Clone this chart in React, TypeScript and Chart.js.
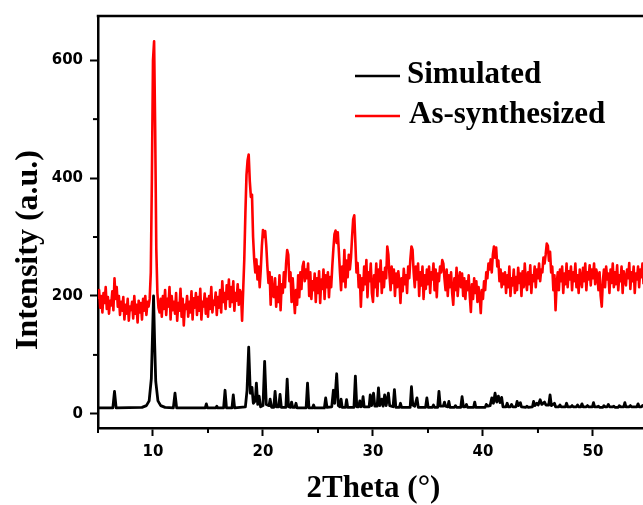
import { useEffect, useRef } from "react";
import { Chart, registerables } from "chart.js";

Chart.register(...registerables);

// ---------- data ----------
const seriesNames = ["Simulated", "As-synthesized"];
const seriesColors = ["#000000", "#ff0000"];

const xTickValues = [10, 20, 30, 40, 50];
const xMinorTicks = [5, 15, 25, 35, 45];
const yTickValues = [0, 200, 400, 600];
const yMinorTicks = [100, 300, 500];

const xTitle = "2Theta (°)";
const yTitle = "Intensity (a.u.)";

// Simulated pattern (2θ, intensity)
const simX = [
  5.0, 6.35, 6.5, 6.65, 9.0, 9.4, 9.65, 9.85, 9.95, 10.05, 10.15, 10.25, 10.45, 10.7, 11.1,
  11.85, 12.0, 12.15, 14.75, 14.85, 14.95, 15.7, 15.8, 15.9, 16.42, 16.55, 16.68, 17.18, 17.3, 17.42,
  18.4, 18.55, 18.7, 18.85, 19.0, 19.12, 19.3, 19.4, 19.52, 19.65, 19.78, 20.0, 20.15, 20.3, 20.55,
  20.65, 20.78, 20.98, 21.1, 21.22, 21.43, 21.55, 21.67, 22.08, 22.2, 22.32, 22.5, 22.6, 22.7, 22.9,
  23.0, 23.1, 23.92, 24.05, 24.18, 24.5, 24.6, 24.7, 25.58, 25.7, 25.82, 26.25, 26.4, 26.52, 26.7,
  26.85, 27.0, 27.1, 27.2, 27.5, 27.6, 27.7, 28.27, 28.4, 28.53, 28.7, 28.8, 28.9, 29.0, 29.1,
  29.2, 29.65, 29.75, 29.88, 30.05, 30.17, 30.38, 30.5, 30.62, 30.8, 30.92, 31.06, 31.2, 31.4, 31.52,
  31.83, 31.95, 32.08, 32.4, 32.5, 32.6, 33.38, 33.5, 33.62, 33.8, 34.0, 34.12, 34.78, 34.9, 35.02,
  35.4, 35.5, 35.6, 35.88, 36.0, 36.12, 36.4, 36.5, 36.6, 36.8, 36.9, 37.0, 37.4, 37.5, 37.6,
  37.98, 38.1, 38.22, 38.4, 38.5, 38.6, 39.15, 39.25, 39.35, 40.2, 40.3, 40.45, 40.65, 40.8, 40.95,
  41.1, 41.25, 41.4, 41.55, 41.7, 41.82, 42.1, 42.2, 42.3, 42.5, 42.6, 42.7, 43.0, 43.1, 43.22,
  43.4, 43.5, 43.9, 44.0, 44.1, 44.5, 44.6, 44.72, 44.9, 45.02, 45.2, 45.35, 45.6, 45.72, 45.98,
  46.1, 46.22, 46.5, 46.6, 46.9, 47.0, 47.1, 47.5, 47.6, 47.7, 48.0, 48.1, 48.2, 48.5, 48.6,
  48.7, 48.9, 49.0, 49.1, 49.4, 49.5, 49.6, 49.95, 50.05, 50.15, 50.4, 50.5, 50.6, 50.9, 51.0,
  51.1, 51.3, 51.4, 51.5, 51.8, 51.9, 52.0, 52.3, 52.4, 52.5, 52.8, 52.9, 53.0, 53.3, 53.4,
  53.5, 54.0, 54.1, 54.2, 54.4, 54.5, 54.6,
];
const simY = [
  10, 10, 38, 10, 11, 14, 22, 60, 130, 200, 120, 55, 22, 14, 11,
  10, 35, 10, 10, 17, 10, 10, 13, 10, 10, 40, 10, 10, 32, 10,
  12, 40, 113, 35, 45, 18, 22, 52, 16, 30, 12, 14, 89, 16, 14,
  25, 11, 11, 38, 12, 12, 33, 11, 11, 59, 12, 11, 20, 11, 11,
  18, 10, 10, 52, 10, 10, 15, 10, 10, 27, 11, 12, 40, 18, 68,
  14, 12, 25, 11, 11, 24, 11, 11, 64, 12, 12, 22, 12, 13, 29,
  12, 12, 32, 14, 35, 13, 13, 44, 14, 25, 13, 32, 14, 35, 14,
  12, 41, 11, 11, 18, 11, 11, 46, 15, 13, 27, 11, 11, 27, 11,
  11, 15, 11, 11, 38, 13, 13, 20, 13, 12, 21, 11, 11, 14, 11,
  11, 29, 12, 12, 16, 11, 11, 20, 11, 11, 16, 13, 14, 27, 18,
  35, 20, 30, 19, 28, 12, 12, 18, 12, 12, 16, 12, 12, 21, 14,
  19, 12, 11, 13, 11, 12, 21, 14, 18, 15, 24, 16, 20, 15, 15,
  32, 14, 18, 12, 12, 15, 12, 12, 18, 12, 12, 14, 12, 12, 15,
  12, 12, 17, 12, 12, 14, 12, 12, 19, 12, 12, 13, 11, 11, 14,
  12, 12, 16, 12, 12, 13, 11, 11, 14, 12, 12, 19, 12, 12, 14,
  12, 12, 17, 12, 12, 14, 12,
];

// As-synthesized pattern: measured scan starting at 5.0°, step 0.1°
const synStart = 5.0;
const synStep = 0.1;
const synY = [
  195, 210, 180, 200, 172, 205, 188, 215, 178, 198, // 5
  170, 192, 184, 208, 176, 230, 195, 215, 182, 200, // 6
  168, 190, 175, 198, 160, 185, 170, 195, 158, 182, // 7
  176, 190, 162, 200, 170, 185, 155, 192, 172, 188, // 8
  160, 195, 175, 200, 168, 190, 182, 195, 240, 400, // 9
  600, 632, 480, 280, 205, 180, 172, 195, 165, 200, // 10
  178, 210, 168, 195, 182, 215, 160, 200, 176, 190, // 11
  170, 205, 158, 188, 175, 212, 165, 195, 150, 185, // 12
  178, 200, 165, 190, 172, 208, 160, 196, 180, 205, // 13
  168, 198, 175, 212, 160, 190, 182, 204, 170, 195, // 14
  165, 200, 178, 215, 172, 192, 185, 206, 168, 198, // 15
  180, 210, 172, 225, 190, 205, 178, 218, 195, 228, // 16
  182, 215, 190, 225, 175, 205, 192, 220, 185, 210, // 17
  205, 158, 210, 262, 340, 405, 430, 440, 395, 368, // 18
  372, 300, 262, 240, 262, 228, 250, 215, 245, 285, // 19
  312, 300, 310, 285, 250, 222, 240, 185, 232, 200, // 20
  198, 230, 182, 215, 190, 235, 176, 220, 205, 240, // 21
  215, 255, 278, 270, 225, 240, 190, 230, 200, 171, // 22
  210, 185, 235, 198, 240, 212, 250, 258, 225, 245, // 23
  230, 255, 200, 240, 195, 225, 210, 238, 190, 230, // 24
  205, 242, 188, 228, 212, 245, 195, 235, 215, 240, // 25
  198, 232, 215, 250, 280, 305, 311, 290, 308, 275, // 26
  240, 210, 250, 225, 278, 215, 260, 232, 270, 245, // 27
  265, 300, 330, 337, 290, 240, 256, 215, 235, 182, // 28
  230, 210, 250, 220, 261, 198, 240, 225, 255, 205, // 29
  190, 235, 215, 255, 200, 245, 225, 260, 205, 240, // 30
  215, 248, 230, 284, 270, 235, 210, 250, 222, 245, // 31
  200, 238, 215, 242, 225, 188, 230, 208, 246, 220, // 32
  235, 205, 250, 230, 262, 284, 278, 240, 215, 250, // 33
  228, 255, 200, 240, 218, 250, 195, 235, 212, 245, // 34
  220, 250, 205, 240, 228, 255, 210, 245, 198, 238, // 35
  225, 250, 240, 261, 255, 230, 210, 245, 200, 235, // 36
  215, 240, 205, 185, 230, 210, 248, 200, 225, 240, // 37
  215, 238, 200, 230, 195, 225, 210, 235, 200, 173, // 38
  220, 195, 230, 205, 225, 190, 215, 200, 171, 210, // 39
  195, 225, 210, 240, 230, 255, 245, 262, 240, 270, // 40
  284, 265, 282, 250, 260, 225, 245, 215, 238, 220, // 41
  240, 205, 235, 215, 250, 200, 230, 218, 245, 205, // 42
  232, 210, 248, 222, 238, 200, 242, 215, 255, 225, // 43
  210, 240, 220, 252, 205, 235, 225, 250, 215, 245, // 44
  230, 255, 225, 245, 240, 265, 255, 270, 289, 285, // 45
  260, 275, 240, 250, 210, 235, 176, 220, 240, 210, // 46
  245, 225, 250, 205, 238, 220, 255, 215, 242, 228, // 47
  250, 210, 240, 225, 255, 215, 235, 205, 245, 230, // 48
  215, 248, 225, 255, 210, 240, 228, 252, 218, 245, // 49
  230, 255, 220, 245, 235, 210, 240, 200, 182, 225, // 50
  245, 215, 250, 228, 238, 205, 245, 222, 255, 215, // 51
  240, 220, 252, 210, 235, 225, 250, 205, 242, 230, // 52
  218, 245, 230, 256, 212, 240, 225, 250, 205, 238, // 53
  228, 250, 215, 245, 232, 255, 220, // 54
];

const xMin = 5;
const xMax = 54.55;
const yMin = -24;
const yMax = 675;

// ---------- plugin: frame top, minor ticks, titles, legend ----------
const decorPlugin = {
  id: "decor",
  afterDraw(chart: any) {
    const { ctx, chartArea: a, scales } = chart;
    ctx.save();
    ctx.strokeStyle = "#000";
    ctx.lineCap = "butt";
    // top frame line
    ctx.lineWidth = 2.5;
    ctx.beginPath();
    ctx.moveTo(a.left - 1.25, a.top);
    ctx.lineTo(a.right, a.top);
    ctx.stroke();
    // minor ticks
    ctx.lineWidth = 2;
    for (const v of xMinorTicks) {
      const px = scales.x.getPixelForValue(v);
      ctx.beginPath();
      ctx.moveTo(px, a.bottom);
      ctx.lineTo(px, a.bottom + 5);
      ctx.stroke();
    }
    for (const v of yMinorTicks) {
      const py = scales.y.getPixelForValue(v);
      ctx.beginPath();
      ctx.moveTo(a.left, py);
      ctx.lineTo(a.left - 5, py);
      ctx.stroke();
    }
    // axis titles
    ctx.fillStyle = "#000";
    ctx.font = 'bold 31px "Liberation Serif", "Times New Roman", serif';
    ctx.textAlign = "center";
    ctx.textBaseline = "alphabetic";
    ctx.fillText(xTitle, (a.left + a.right) / 2 + 3, a.bottom + 69);
    ctx.save();
    ctx.font = 'bold 32px "Liberation Serif", "Times New Roman", serif';
    ctx.translate(37, a.top + 234);
    ctx.rotate(-Math.PI / 2);
    ctx.fillText(yTitle, 0, 0);
    ctx.restore();
    // legend
    const lx0 = a.left + 257;
    const lx1 = a.left + 302;
    const rows = [a.top + 60, a.top + 100];
    ctx.font = 'bold 31px "Liberation Serif", "Times New Roman", serif';
    ctx.textAlign = "left";
    seriesNames.forEach((name, i) => {
      ctx.strokeStyle = seriesColors[i];
      ctx.lineWidth = 2.5;
      ctx.beginPath();
      ctx.moveTo(lx0, rows[i]);
      ctx.lineTo(lx1, rows[i]);
      ctx.stroke();
      ctx.fillStyle = "#000";
      ctx.fillText(name, lx1 + 7 + i * 2, rows[i] + 7);
    });
    ctx.restore();
  },
};

export default function App() {
  const canvasRef = useRef<HTMLCanvasElement | null>(null);

  useEffect(() => {
    const canvas = canvasRef.current;
    if (!canvas) return;
    const simData = simX.map((x, i) => ({ x, y: simY[i] }));
    const synData = synY.map((y, i) => ({ x: synStart + i * synStep, y }));

    const chart = new Chart(canvas, {
      type: "line",
      data: {
        datasets: [
          {
            label: seriesNames[0],
            data: simData,
            borderColor: seriesColors[0],
            borderWidth: 2.8,
            pointRadius: 0,
            tension: 0,
            borderJoinStyle: "round",
          },
          {
            label: seriesNames[1],
            data: synData,
            borderColor: seriesColors[1],
            borderWidth: 2.6,
            pointRadius: 0,
            tension: 0,
            borderJoinStyle: "round",
          },
        ],
      },
      options: {
        animation: false,
        responsive: false,
        maintainAspectRatio: false,
        layout: { padding: { left: 0, top: 16, right: 0, bottom: 0 } },
        plugins: {
          legend: { display: false },
          tooltip: { enabled: false },
          title: { display: false },
        },
        scales: {
          x: {
            type: "linear",
            min: xMin,
            max: xMax,
            afterFit: (s: any) => {
              s.height = 77;
            },
            afterBuildTicks: (s: any) => {
              s.ticks = xTickValues.map((v) => ({ value: v }));
            },
            ticks: {
              autoSkip: false,
              maxRotation: 0,
              padding: 7,
              color: "#000",
              font: { family: '"DejaVu Sans", sans-serif', size: 15, weight: "bold" },
              callback: (v: any) => String(v),
            },
            grid: {
              display: true,
              drawOnChartArea: false,
              drawTicks: true,
              tickLength: 8,
              tickWidth: 2,
              tickColor: "#000",
            },
            border: { display: true, color: "#000", width: 2.5 },
          },
          y: {
            type: "linear",
            min: yMin,
            max: yMax,
            afterFit: (s: any) => {
              s.width = 98;
            },
            afterBuildTicks: (s: any) => {
              s.ticks = yTickValues.map((v) => ({ value: v }));
            },
            ticks: {
              autoSkip: false,
              padding: 7,
              color: "#000",
              font: { family: '"DejaVu Sans", sans-serif', size: 15, weight: "bold" },
              callback: (v: any) => String(v),
            },
            grid: {
              display: true,
              drawOnChartArea: false,
              drawTicks: true,
              tickLength: 8,
              tickWidth: 2,
              tickColor: "#000",
            },
            border: { display: true, color: "#000", width: 2.5 },
          },
        },
      },
      plugins: [decorPlugin],
    });
    return () => chart.destroy();
  }, []);

  return (
    <div style={{ position: "fixed", left: 0, top: 0, width: 643, height: 505, background: "#fff" }}>
      <canvas ref={canvasRef} width={643} height={505} style={{ display: "block" }} />
    </div>
  );
}
